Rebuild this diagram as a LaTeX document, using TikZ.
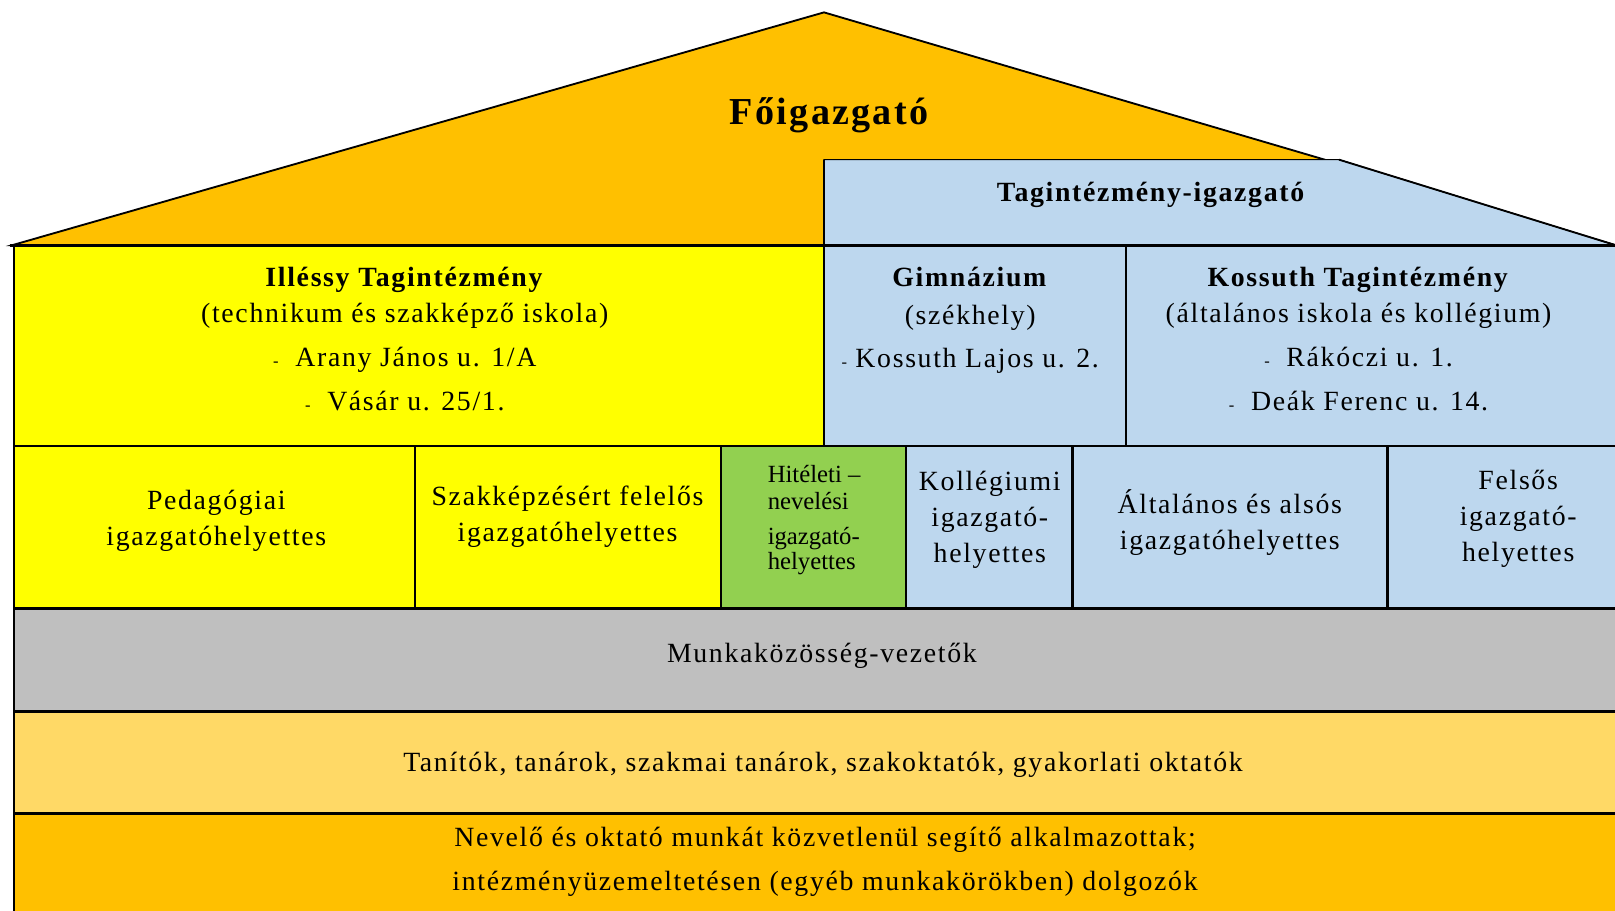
\documentclass[tikz,border=0pt]{standalone}
\usepackage{fontspec}
\setmainfont{Liberation Serif}[LetterSpace=6]
\newfontfamily\plainserif{Liberation Serif}

\definecolor{roof}{HTML}{FFC000}
\definecolor{illessy}{HTML}{FFFF00}
\definecolor{kossuth}{HTML}{BDD7EE}
\definecolor{hitelet}{HTML}{92D050}
\definecolor{munka}{HTML}{BFBFBF}
\definecolor{tanar}{HTML}{FFD966}

\tikzset{
  box/.style={draw=black, line width=0.9pt},
  heavy/.style={draw=black, line width=1.5pt},
  label/.style={align=center, inner sep=0pt, font=\fontsize{13.5}{17.5}\selectfont}
}
\newcommand{\addr}{{\fontsize{8}{8}\selectfont -}\hspace{0.6em}}

\begin{document}
\begin{tikzpicture}[x=0.5pt, y=-0.5pt]
	\useasboundingbox (0,0) rectangle (1568,884);

	% roof
	\filldraw[fill=roof, line width=0.9pt] (12,238) -- (800,12) -- (1575,240) -- cycle;
	\filldraw[fill=kossuth, draw=black, line width=0.5pt] (800,155) -- (1300,155) -- (1575,240) -- (800,240) -- cycle;
	\draw[box] (800,155) -- (800,238);
	\draw[line width=0.9pt] (1300,155) -- (1575,240);

	% tagintezmenyek
	\filldraw[box, fill=illessy] (14,238) rectangle (800,433);
	\filldraw[box, fill=kossuth] (800,238) rectangle (1093,433);
	\filldraw[box, fill=kossuth] (1093,238) rectangle (1580,433);
	\draw[heavy] (10,238) -- (1580,238);

	% helyettesek
	\foreach \xa/\xb/\col in {14/403/illessy, 403/700/illessy, 700/880/hitelet,
			880/1041/kossuth, 1041/1347/kossuth, 1347/1580/kossuth}
		{
			\filldraw[box, fill=\col] (\xa,433) rectangle (\xb,591);
		}
	\draw[heavy] (1041,433) -- (1041,591);
	\draw[heavy] (1347,433) -- (1347,591);

	% also sorok
	\filldraw[box, fill=munka] (14,591) rectangle (1580,691);
	\filldraw[box, fill=tanar] (14,691) rectangle (1580,790);
	\filldraw[box, fill=roof] (14,790) rectangle (1580,900);
	\draw[heavy] (14,591) -- (1580,591);
	\draw[heavy] (14,691) -- (1580,691);
	\draw[heavy] (14,790) -- (1580,790);

	% feliratok
	\node[label, font=\fontsize{18.5}{22}\selectfont\bfseries] (foigazgato) at (805,112) {Főigazgató};
	\node[label, font=\fontsize{13.5}{17.5}\selectfont\bfseries] (tagigazgato) at (1117,189) {Tagintézmény-igazgató};

	\node[label] (illessy) at (393,329) {\textbf{Illéssy Tagintézmény}\\
		(technikum és szakképző iskola)\\[4pt]
		\addr Arany János u. 1/A\\[4pt]
		\addr Vásár u. 25/1.};
	\node[label] (gimnazium) at (942,311) {\textbf{Gimnázium}\\[1pt]
		(székhely)\\[3pt]
		{\fontsize{8}{8}\selectfont -}\hspace{0.3em}Kossuth Lajos u. 2.};
	\node[label] (kossuth) at (1319,329) {\textbf{Kossuth Tagintézmény}\\
		(általános iskola és kollégium)\\[4pt]
		\addr Rákóczi u. 1.\\[4pt]
		\addr Deák Ferenc u. 14.};

	\node[label] (pedagogiai) at (210,506) {Pedagógiai\\igazgatóhelyettes};
	\node[label] (szakkepzes) at (551,502) {Szakképzésért felelős\\igazgatóhelyettes};
	\node[label, align=left, anchor=west, font=\plainserif\fontsize{12}{13}\selectfont] (hitelet) at (745,505)
		{Hitéleti –\\nevelési\\[4pt]igazgató-\\[-0.5pt]helyettes};
	\node[label] (kollegiumi) at (961,505) {Kollégiumi\\igazgató-\\helyettes};
	\node[label] (altalanos) at (1194,507) {Általános és alsós\\igazgatóhelyettes};
	\node[label] (felsos) at (1474,504) {Felsős\\igazgató-\\helyettes};

	\node[label] (munkakozosseg) at (798,637) {Munkaközösség-vezetők};
	\node[label] (tanitok) at (799,743) {Tanítók, tanárok, szakmai tanárok, szakoktatók, gyakorlati oktatók};
	\node[label] (segito) at (801,837) {Nevelő és oktató munkát közvetlenül segítő alkalmazottak;\\[4pt]
		intézményüzemeltetésen (egyéb munkakörökben) dolgozók};
\end{tikzpicture}
\end{document}
